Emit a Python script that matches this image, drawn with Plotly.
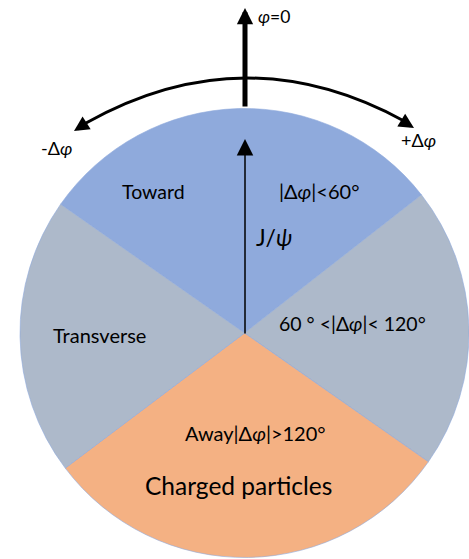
import plotly.graph_objects as go

W, H = 469, 559

# Sector data (angular widths in degrees)
sector_labels = ["Toward", "Transverse (right)", "Away", "Transverse"]
sector_values = [107, 73, 108, 72]
sector_colors = ["#8FAADC", "#ADB9CA", "#F4B183", "#ADB9CA"]

def px(x):
    return x / W

def py(y):
    return 1 - y / H

fig = go.Figure()
fig.add_trace(go.Pie(
    labels=sector_labels,
    values=sector_values,
    sort=False,
    direction="clockwise",
    rotation=-55,
    marker=dict(colors=sector_colors, line=dict(color="#8FAADC", width=0.6)),
    textinfo="none",
    hoverinfo="label",
    showlegend=False,
    domain=dict(x=[px(20), 1.0], y=[py(557.5), py(108.5)]),
))

FONT = "Lato, 'Open Sans', sans-serif"
shapes = []
# curved arc with arrowheads (drawn as path)
shapes.append(dict(
    type="path", xref="paper", yref="paper",
    path=f"M {px(86)},{py(123)} Q {px(245)},{py(34)} {px(404)},{py(121)}",
    line=dict(color="black", width=3),
))

annotations = []
def arrow(tipx, tipy, tailx, taily, width, size):
    annotations.append(dict(
        x=px(tipx), y=py(tipy), xref="paper", yref="paper",
        ax=tailx - tipx, ay=taily - tipy, axref="pixel", ayref="pixel",
        text="", showarrow=True, arrowhead=2, arrowwidth=width,
        arrowsize=size, arrowcolor="black", standoff=0,
    ))

# phi = 0 axis arrow
arrow(245, 8, 245, 108, 5, 0.65)
# arc arrowheads
arrow(74, 131, 88, 122, 3, 1.0)
arrow(414, 128, 401, 120, 3, 1.0)
# J/psi arrow
arrow(245, 139, 245, 335, 1.5, 2.2)

def label(x, y, text, size=16, anchor="center"):
    annotations.append(dict(
        x=px(x), y=py(y), xref="paper", yref="paper", text=text,
        showarrow=False, xanchor=anchor, yanchor="middle",
        font=dict(family=FONT, size=size, color="black"),
    ))

label(256, 17, "<i>φ</i>=0", 17.5, "left")
label(39, 148, "-Δ<i>φ</i>", 18, "left")
label(399, 140, "+Δ<i>φ</i>", 18, "left")
label(153, 191, "Toward", 19.5)
label(277, 191, "|Δ<i>φ</i>|<60°", 20, "left")
label(254, 237, "J/<i>ψ</i>", 23, "left")
label(51, 335, "Transverse", 20, "left")
label(277, 323, "60 ° <|Δ<i>φ</i>|< 120°", 19.5, "left")
label(255, 433, "Away|Δ<i>φ</i>|>120°", 20)
label(239, 485, "Charged particles", 24.5)

fig.update_layout(
    width=W, height=H,
    margin=dict(l=0, r=0, t=0, b=0),
    paper_bgcolor="white", plot_bgcolor="white",
    shapes=shapes, annotations=annotations,
)

fig.write_html("out.html")
